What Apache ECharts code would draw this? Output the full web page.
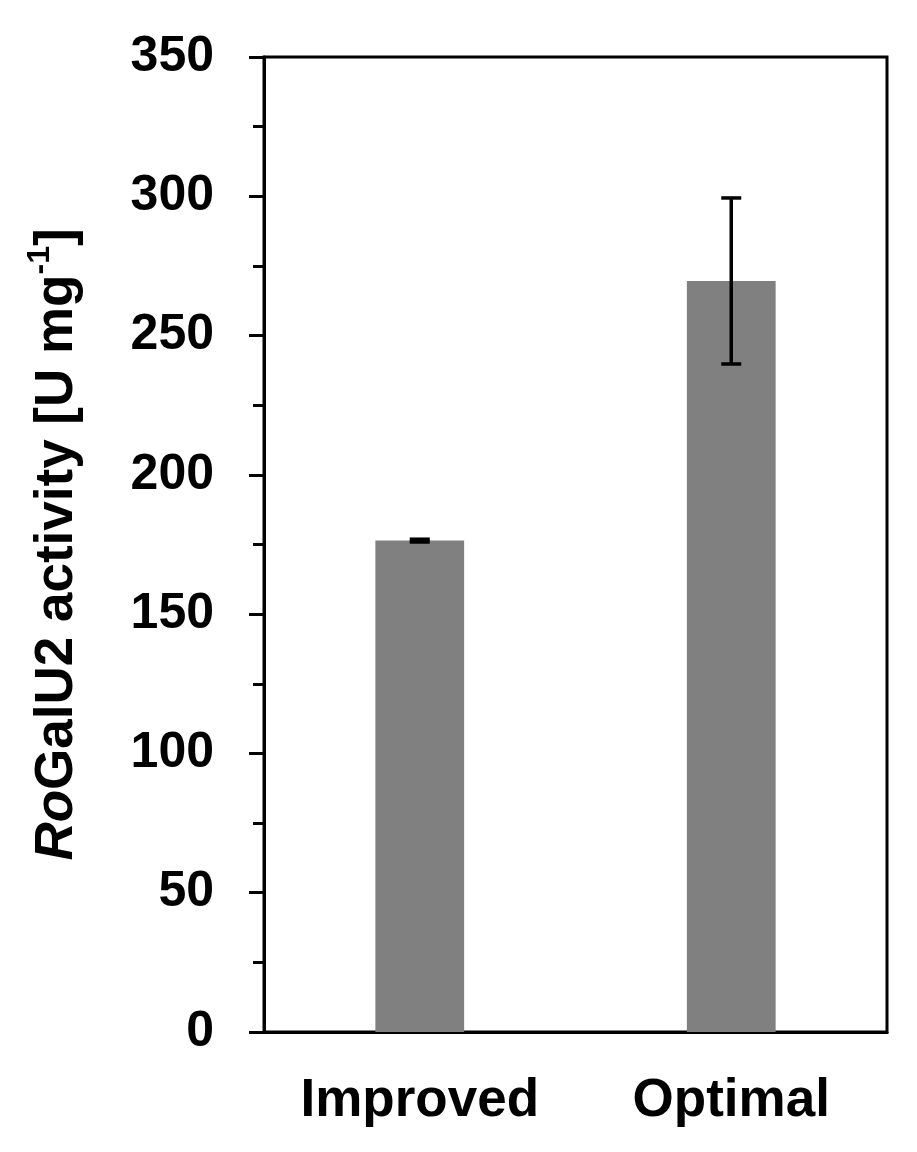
<!DOCTYPE html>
<html>
<head>
<meta charset="utf-8">
<script src="https://cdn.jsdelivr.net/npm/echarts@6/dist/echarts.min.js"></script>
<style>
html,body{margin:0;padding:0;background:#fff;}
#chart{width:917px;height:1152px;}
</style>
</head>
<body>
<div id="chart"></div>
<script>
var categories = ['Improved', 'Optimal'];
var activity = [176.4, 269.6];
var errors = [0.5, 29.8];
var yTicks = { min: 0, max: 350, interval: 50 };

var chart = echarts.init(document.getElementById('chart'));
var errData = categories.map(function (c, i) { return [i, activity[i] - errors[i], activity[i] + errors[i]]; });
var F = '"Liberation Sans", Arial, sans-serif';

chart.setOption({
  animation: false,
  backgroundColor: '#fff',
  grid: { left: 264, right: 30, top: 57, bottom: 120, show: true, borderColor: '#000', borderWidth: 3, backgroundColor: 'transparent' },
  xAxis: {
    type: 'category',
    data: categories,
    axisLine: { lineStyle: { color: '#000', width: 3 } },
    axisTick: { show: false },
    axisLabel: { color: '#000', fontFamily: F, fontWeight: 'bold', fontSize: 53, margin: 43 }
  },
  yAxis: {
    type: 'value',
    min: yTicks.min, max: yTicks.max, interval: yTicks.interval,
    splitLine: { show: false },
    axisLine: { show: true, lineStyle: { color: '#000', width: 3 } },
    axisTick: { show: true, length: 15, lineStyle: { color: '#000', width: 3 } },
    minorTick: { show: true, splitNumber: 2, length: 11, lineStyle: { color: '#000', width: 3 } },
    axisLabel: { color: '#000', fontFamily: F, fontWeight: 'bold', fontSize: 50, margin: 50 },
    name: '{i|Ro}{n|GalU2 activity [U mg}{s|-1}{n|]}',
    nameLocation: 'middle',
    nameRotate: 90,
    nameGap: 180,
    nameTextStyle: {
      color: '#000', fontFamily: F, fontWeight: 'bold', fontSize: 53,
      rich: {
        i: { fontFamily: F, fontWeight: 'bold', fontStyle: 'italic', fontSize: 53, color: '#000', lineHeight: 60, verticalAlign: 'bottom' },
        n: { fontFamily: F, fontWeight: 'bold', fontSize: 53, color: '#000', lineHeight: 60, verticalAlign: 'bottom' },
        s: { fontFamily: F, fontWeight: 'bold', fontSize: 32, color: '#000', lineHeight: 60, verticalAlign: 'top' }
      }
    }
  },
  series: [
    {
      type: 'bar',
      data: activity,
      barWidth: '28.5%',
      itemStyle: { color: '#808080' }
    },
    {
      type: 'custom',
      data: errData,
      z: 10,
      renderItem: function (params, api) {
        var x = api.value(0);
        var lo = api.coord([x, api.value(1)]);
        var hi = api.coord([x, api.value(2)]);
        var hw = 10;
        var st = { stroke: '#000', lineWidth: 3.5 };
        return {
          type: 'group',
          children: [
            { type: 'line', shape: { x1: hi[0], y1: hi[1], x2: lo[0], y2: lo[1] }, style: st },
            { type: 'line', shape: { x1: hi[0] - hw, y1: hi[1], x2: hi[0] + hw, y2: hi[1] }, style: st },
            { type: 'line', shape: { x1: lo[0] - hw, y1: lo[1], x2: lo[0] + hw, y2: lo[1] }, style: st }
          ]
        };
      }
    }
  ]
});
</script>
</body>
</html>
